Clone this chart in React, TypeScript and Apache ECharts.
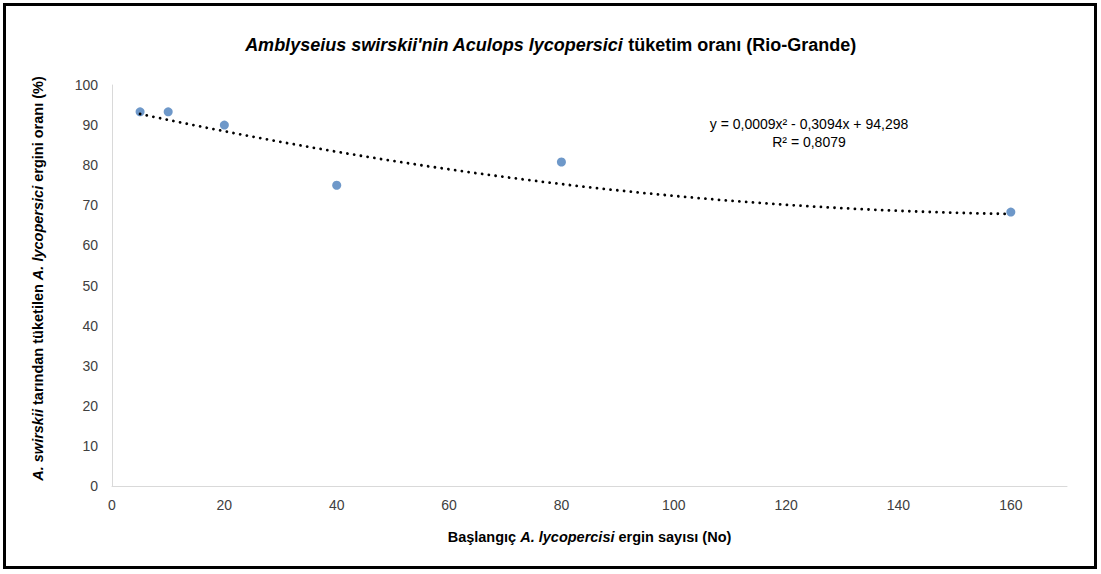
import React, { useEffect, useRef } from "react";
import * as echarts from "echarts";

// Starting prey density (No) and consumption rate (%)
const preyDensity = [5, 10, 20, 40, 80, 160];
const consumptionRate = [93.3, 93.3, 90.0, 75.0, 80.8, 68.3];

// Polynomial trend coefficients (a x^2 + b x + c) as printed on the chart
const trendCoef = [0.0009, -0.3094, 94.298];
const rSquared = "0,8079";

const xTicks = [0, 20, 40, 60, 80, 100, 120, 140, 160];
const yTicks = [0, 10, 20, 30, 40, 50, 60, 70, 80, 90, 100];

const FONT = "'Liberation Sans', Arial, sans-serif";

export default function App() {
  const ref = useRef<HTMLDivElement>(null);

  useEffect(() => {
    if (!ref.current) return;
    const chart = echarts.init(ref.current, undefined, { renderer: "svg" });

    const xMin = preyDensity[0];
    const xMax = preyDensity[preyDensity.length - 1];
    const trend: number[][] = [];
    const steps = 120;
    for (let i = 0; i <= steps; i++) {
      const x = xMin + ((xMax - xMin) * i) / steps;
      trend.push([x, trendCoef[0] * x * x + trendCoef[1] * x + trendCoef[2]]);
    }

    const nameRich = {
      i: { fontFamily: FONT, fontSize: 14.5, fontWeight: "bold", fontStyle: "italic", color: "#000" },
      n: { fontFamily: FONT, fontSize: 14.5, fontWeight: "bold", color: "#000" },
    };

    const option: echarts.EChartsOption = {
      animation: false,
      backgroundColor: "#ffffff",
      title: {
        text: "{i|Amblyseius swirskii'nin Aculops lycopersici}{n| tüketim oranı (Rio-Grande)}",
        left: "center",
        top: 31,
        textStyle: {
          rich: {
            i: { fontFamily: FONT, fontSize: 18, fontWeight: "bold", fontStyle: "italic", color: "#000" },
            n: { fontFamily: FONT, fontSize: 18, fontWeight: "bold", color: "#000" },
          },
        },
      },
      grid: { left: 112, right: 34, top: 85, bottom: 88 },
      xAxis: {
        type: "value",
        min: 0,
        max: 170,
        interval: 20,
        name: "{n|Başlangıç }{i|A. lycopercisi}{n| ergin sayısı (No)}",
        nameLocation: "middle",
        nameGap: 43,
        nameTextStyle: { rich: nameRich },
        axisLine: { show: true, lineStyle: { color: "#d9d9d9", width: 1 } },
        axisTick: { show: false },
        splitLine: { show: false },
        axisLabel: {
          showMaxLabel: false,
          margin: 12,
          fontFamily: FONT,
          fontSize: 14,
          color: "#404040",
          formatter: (v: number) => (xTicks.includes(v) ? String(v) : ""),
        },
      },
      yAxis: {
        type: "value",
        min: 0,
        max: 100,
        interval: 10,
        name: "{i|A. swirskii}{n| tarından tüketilen }{i|A. lycopersici}{n| ergini oranı (%)}",
        nameLocation: "middle",
        nameRotate: 90,
        nameGap: 67,
        nameTextStyle: { rich: nameRich, padding: [0, 0, 0, 14] },
        axisLine: { show: true, lineStyle: { color: "#d9d9d9", width: 1 } },
        axisTick: { show: false },
        splitLine: { show: false },
        axisLabel: {
          margin: 14,
          fontFamily: FONT,
          fontSize: 14,
          color: "#404040",
          formatter: (v: number) => (yTicks.includes(v) ? String(v) : ""),
        },
      },
      series: [
        {
          type: "scatter",
          data: preyDensity.map((x, i) => [x, consumptionRate[i]]),
          symbolSize: 9,
          itemStyle: { color: "#4a7ebb" },
          z: 2,
        },
        {
          type: "line",
          data: trend,
          showSymbol: false,
          symbol: "none",
          smooth: false,
          lineStyle: { color: "#000", width: 2.8, type: [0.01, 6.8], cap: "round" },
          z: 3,
        },
      ],
      graphic: [
        {
          type: "rect",
          shape: { x: 4.5, y: 4.5, width: 1091, height: 563 },
          style: { fill: "none", stroke: "#000", lineWidth: 3 },
          silent: true,
        },
        {
          type: "text",
          x: 809,
          y: 124,
          style: {
            text: "y = 0,0009x² - 0,3094x + 94,298",
            fontFamily: FONT,
            fontSize: 14,
            fill: "#000",
            align: "center",
            verticalAlign: "middle",
          },
        },
        {
          type: "text",
          x: 809,
          y: 142,
          style: {
            text: "R² = " + rSquared,
            fontFamily: FONT,
            fontSize: 14,
            fill: "#000",
            align: "center",
            verticalAlign: "middle",
          },
        },
      ],
    };

    chart.setOption(option);
    return () => chart.dispose();
  }, []);

  return (
    <div
      ref={ref}
      style={{ position: "absolute", left: 0, top: 0, width: 1101, height: 574, background: "#fff" }}
    />
  );
}
